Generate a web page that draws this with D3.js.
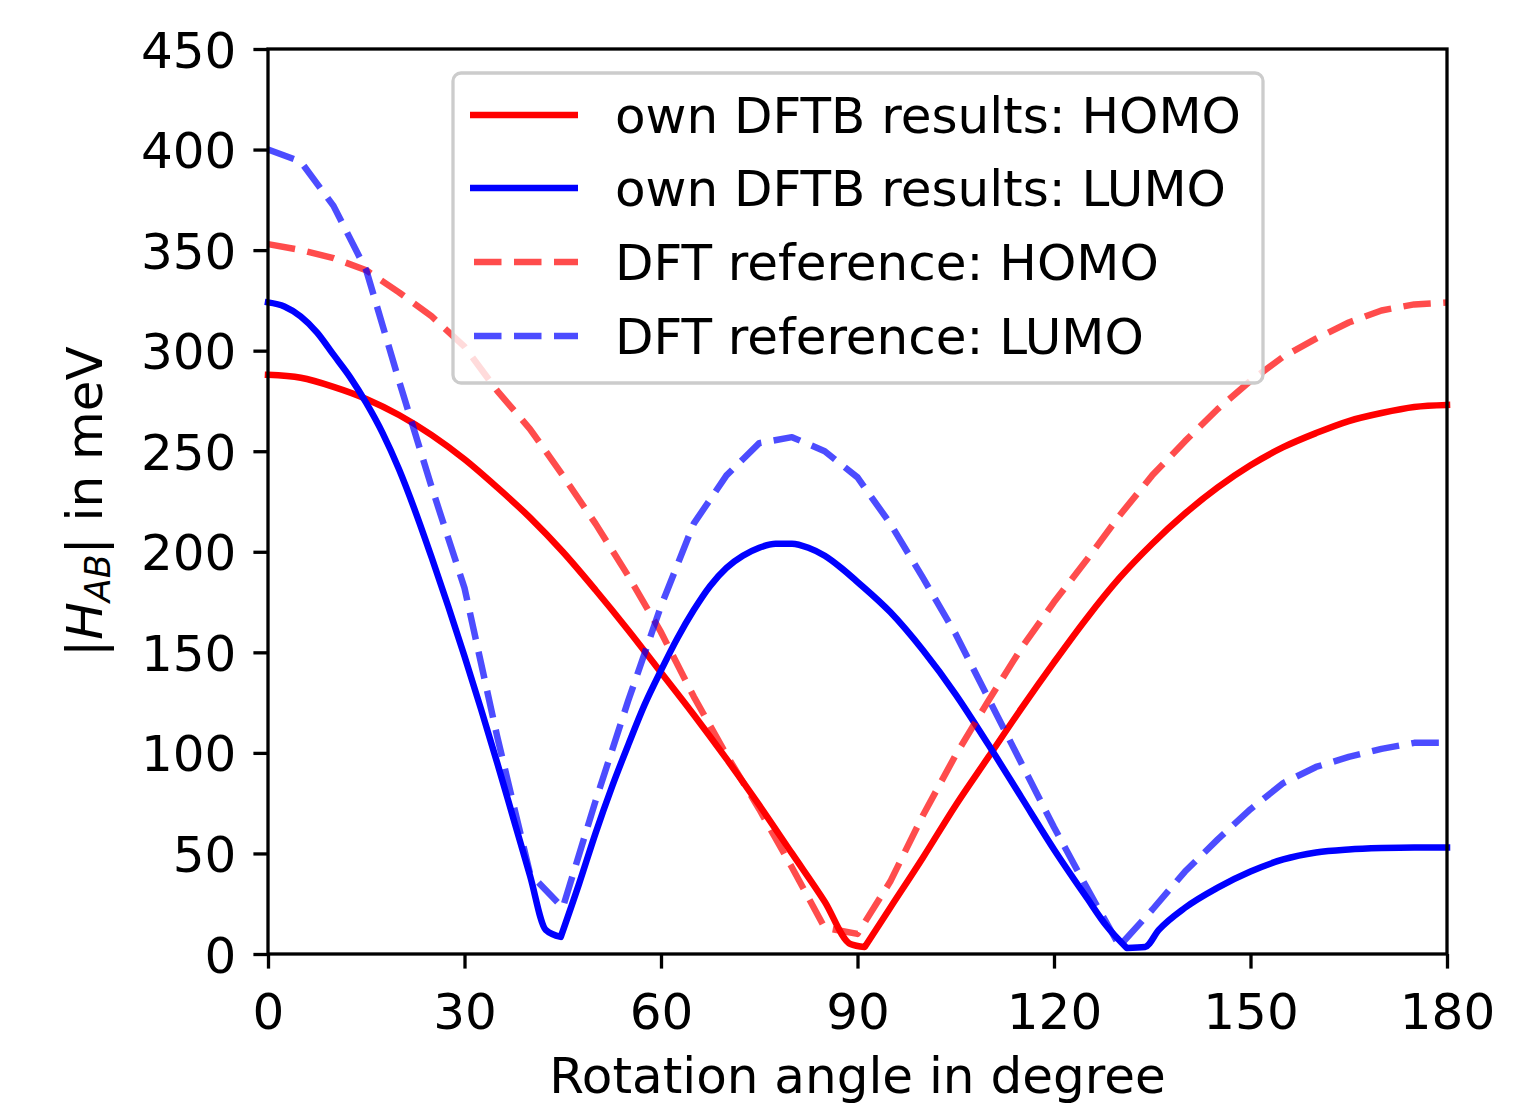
<!DOCTYPE html>
<html>
<head>
<meta charset="utf-8">
<script src="https://cdn.jsdelivr.net/npm/d3@7"></script>
<style>
  html, body { margin: 0; padding: 0; background: #fff; }
  svg { display: block; font-family: "DejaVu Sans", sans-serif; }
</style>
</head>
<body>
<svg id="chart" width="1536" height="1106"></svg>
<script>
// ---- data ----
const xTicks = [0, 30, 60, 90, 120, 150, 180];
const yTicks = [0, 50, 100, 150, 200, 250, 300, 350, 400, 450];

const seriesNames = [
  "own DFTB results: HOMO",
  "own DFTB results: LUMO",
  "DFT reference: HOMO",
  "DFT reference: LUMO"
];

const dftbHomoAngles = [0, 5, 10, 15, 20, 25, 30, 35, 40, 45, 50, 55, 60, 65, 70, 75, 80, 85, 88.9, 91.1,
  95, 100, 105, 110, 115, 120, 125, 130, 135, 140, 145, 150, 155, 160, 165, 170, 175, 180];
const dftbHomo = [288, 286.5, 282, 276, 268, 258, 246, 232, 217, 200, 181, 161, 140, 119, 97, 74, 50, 26, 5, 3.5,
  23, 48, 74, 98, 122, 145, 167, 187, 204, 219, 232, 243, 252, 259, 265, 269, 272, 273];

const dftbLumoAngles = [0, 2.5, 5, 7.5, 10, 12.5, 15, 17.5, 20, 22.5, 25, 27.5, 30, 32.5, 35, 37.5, 40, 42.4, 44.7, 47.5,
  50, 52.5, 55, 57.5, 60, 62.5, 65, 67.5, 70, 72.5, 75, 77.5, 80, 82.5, 85, 87.5, 90, 95, 100, 105,
  110, 115, 120, 125, 128, 131.1, 133.9, 136, 140, 145, 150, 155, 160, 165, 170, 175, 180];
const dftbLumo = [324, 322, 317, 309, 298, 287, 274, 259, 241, 220, 197, 173, 148, 122, 95, 67, 39, 12, 8.5, 35,
  60, 83, 104, 124, 141, 157, 171, 183, 192, 198, 202, 204, 204, 202, 198, 192, 185, 170, 151, 129,
  104, 78, 52, 28, 14, 3, 3.5, 12, 23, 33, 41, 47, 50.5, 52, 52.7, 53, 53];

const dftAngles = [0, 5, 10, 15, 20, 25, 30, 35, 40, 45, 50, 55, 60, 65, 70, 75, 80, 85, 90,
  95, 100, 105, 110, 115, 120, 125, 130, 135, 140, 145, 150, 155, 160, 165, 170, 175, 180];
const dftHomo = [353, 350, 346, 340, 329, 317, 302, 280, 261, 238, 214, 188, 160, 128, 99, 72, 43, 13, 10,
  36, 69, 99, 126, 152, 175, 196, 218, 238, 255, 271, 285, 297, 306, 314, 320, 323, 324];
const dftLumo = [400, 394, 372, 340, 285, 232, 182, 108, 40, 23, 76, 126, 173, 214, 238, 254, 257, 250, 237,
  214, 187, 159, 127, 95, 63, 33, 4, 22, 41, 57, 72, 85, 93, 98, 102, 105, 105];

// ---- layout ----
const L = 268, R = 1447, T = 49, B = 954;
const FS = 50;
const LW = 6.5;
const DASH = "27.5,12.5";

const svg = d3.select("#chart");
const x = d3.scaleLinear().domain([0, 180]).range([L, R]);
const y = d3.scaleLinear().domain([0, 450]).range([B, T]);

const series = [
  { name: seriesNames[0], xs: dftbHomoAngles, ys: dftbHomo, color: "#ff0000", op: 1, dash: null, smooth: true },
  { name: seriesNames[1], xs: dftbLumoAngles, ys: dftbLumo, color: "#0000ff", op: 1, dash: null, smooth: true },
  { name: seriesNames[2], xs: dftAngles, ys: dftHomo, color: "#ff0000", op: 0.7, dash: DASH, smooth: false },
  { name: seriesNames[3], xs: dftAngles, ys: dftLumo, color: "#0000ff", op: 0.7, dash: DASH, smooth: false }
];

// build path: smooth pieces split at local minima (kinks), linear otherwise
function buildPath(s) {
  const pts = s.xs.map((a, i) => [a, s.ys[i]]);
  if (!s.smooth) {
    return d3.line().x(d => x(d[0])).y(d => y(d[1]))(pts);
  }
  const mono = d3.line().x(d => x(d[0])).y(d => y(d[1])).curve(d3.curveMonotoneX);
  const pieces = [];
  let start = 0;
  for (let i = 1; i < pts.length - 1; i++) {
    if (pts[i][1] < pts[i - 1][1] && pts[i][1] < pts[i + 1][1]) {
      pieces.push(pts.slice(start, i + 1));
      start = i;
    }
  }
  pieces.push(pts.slice(start));
  return pieces.map((p, k) => {
    const d = mono(p);
    return k === 0 ? d : "L" + d.slice(1);
  }).join("");
}

series.forEach(s => {
  svg.append("path")
    .attr("d", buildPath(s))
    .attr("fill", "none")
    .attr("stroke", s.color)
    .attr("stroke-opacity", s.op)
    .attr("stroke-width", LW)
    .attr("stroke-linejoin", "round")
    .attr("stroke-linecap", s.dash ? "butt" : "square")
    .attr("stroke-dasharray", s.dash);
});

// axes
const tickLen = 14.6, tickPad = 17;
const yAxis = d3.axisLeft(y).tickValues(yTicks).tickSize(tickLen).tickSizeOuter(0).tickPadding(tickPad).tickFormat(d3.format("d"));
const xAxis = d3.axisBottom(x).tickValues(xTicks).tickSize(tickLen).tickSizeOuter(0).tickPadding(14.6).tickFormat(d3.format("d"));

const gy = svg.append("g").attr("transform", `translate(${L},0)`).call(yAxis);
const gx = svg.append("g").attr("transform", `translate(0,${B})`).call(xAxis);
[gx, gy].forEach(g => {
  g.select(".domain").remove();
  g.selectAll(".tick line").attr("stroke", "#000").attr("stroke-width", 3.3);
  g.selectAll(".tick text")
    .attr("fill", "#000")
    .attr("font-size", FS)
    .attr("font-family", "DejaVu Sans");
});
gy.selectAll(".tick text").attr("dy", "0.36em");
gx.selectAll(".tick text").attr("dy", "0.92em");

// frame (spines)
svg.append("rect")
  .attr("x", L).attr("y", T)
  .attr("width", R - L).attr("height", B - T)
  .attr("fill", "none").attr("stroke", "#000").attr("stroke-width", 3.3);

// x label
svg.append("text")
  .attr("x", (L + R) / 2).attr("y", 1093)
  .attr("text-anchor", "middle")
  .attr("font-size", FS)
  .attr("fill", "#000")
  .text("Rotation angle in degree");

// y label
const yl = svg.append("text")
  .attr("transform", `translate(102,${(T + B) / 2}) rotate(-90)`)
  .attr("text-anchor", "middle")
  .attr("font-size", FS)
  .attr("fill", "#000");
yl.append("tspan").text("|");
yl.append("tspan").attr("font-style", "italic").text("H");
yl.append("tspan").attr("font-style", "italic").attr("font-size", 35).attr("dy", 8).text("AB");
yl.append("tspan").attr("dy", -8).text("| in meV");

// legend
const lg = svg.append("g");
lg.append("rect")
  .attr("x", 453).attr("y", 73)
  .attr("width", 810).attr("height", 310)
  .attr("rx", 8).attr("ry", 8)
  .attr("fill", "#fff").attr("fill-opacity", 0.8)
  .attr("stroke", "#cccccc").attr("stroke-width", 3.3);

const rowY = [115, 188, 262, 336];
series.forEach((s, i) => {
  lg.append("line")
    .attr("x1", s.dash ? 474 : 470).attr("x2", 578)
    .attr("y1", rowY[i]).attr("y2", rowY[i])
    .attr("stroke", s.color)
    .attr("stroke-opacity", s.op)
    .attr("stroke-width", LW)
    .attr("stroke-dasharray", s.dash);
  lg.append("text")
    .attr("x", 615).attr("y", rowY[i] + 18)
    .attr("font-size", FS)
    .attr("fill", "#000")
    .text(s.name);
});
</script>
</body>
</html>
